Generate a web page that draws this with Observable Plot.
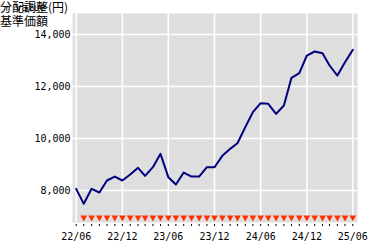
<!DOCTYPE html>
<html><head><meta charset="utf-8">
<script src="https://cdn.jsdelivr.net/npm/d3@7"></script>
<script src="https://cdn.jsdelivr.net/npm/@observablehq/plot@0.6"></script>
<style>
body{margin:0;background:#fff;}
#wrap{position:relative;width:380px;height:250px;}
.t{position:absolute;left:0;font-family:"Noto Sans CJK JP";font-size:12px;line-height:12px;color:#000;z-index:2;white-space:nowrap;}
</style></head>
<body><div id="wrap"><div class="t" style="top:1px">分配調整(円)</div><div class="t" style="top:15px">基準価額</div></div>
<script>
const months = ["2022-06","2022-07","2022-08","2022-09","2022-10","2022-11","2022-12",
"2023-01","2023-02","2023-03","2023-04","2023-05","2023-06","2023-07","2023-08","2023-09","2023-10","2023-11","2023-12",
"2024-01","2024-02","2024-03","2024-04","2024-05","2024-06","2024-07","2024-08","2024-09","2024-10","2024-11","2024-12",
"2025-01","2025-02","2025-03","2025-04","2025-05","2025-06"];
const navValues = [8065,7488,8065,7923,8385,8538,8385,8615,8872,8565,8897,9410,8513,8231,8692,8538,8538,8897,8897,
9333,9603,9820,10436,11013,11359,11333,10949,11269,12333,12513,13192,13346,13282,12808,12423,12936,13410];
const distributionMonths = months.slice(1);
const yTicks = [8000,10000,12000,14000];
const xLabelMonths = ["2022-06","2022-12","2023-06","2023-12","2024-06","2024-12","2025-06"];

const parse = d3.utcParse("%Y-%m");
const data = months.map((m,i)=>({date:parse(m), value:navValues[i]}));
const distDates = distributionMonths.map(parse);
const monthDates = months.map(parse);
const labelDates = xLabelMonths.map(parse);

const chart = Plot.plot({
  width:380, height:250,
  marginLeft:72, marginRight:23, marginTop:13, marginBottom:28,
  insetLeft:3.7, insetRight:4.7,
  x:{type:"utc", domain:[parse("2022-06"), parse("2025-06")]},
  y:{domain:[6770,14808]},
  style:{fontFamily:"DejaVu Sans Mono", fontSize:"10px", color:"#000", background:"#fff"},
  marks:[
    Plot.frame({fill:"#dedede", stroke:null}),
    Plot.gridY(yTicks,{stroke:"#fff", strokeOpacity:1, strokeWidth:1.5}),
    Plot.gridX(labelDates,{stroke:"#fff", strokeOpacity:1, strokeWidth:1.5}),
    Plot.axisY(yTicks,{tickSize:0, tickPadding:2, tickFormat:d3.format(",")}),
    Plot.axisX(monthDates,{tickSize:4, tickFormat:()=>"", stroke:"#000", strokeDasharray:"0,2,2"}),
    Plot.axisX(labelDates,{tickSize:0, tickPadding:10, tickFormat:d3.utcFormat("%y/%m")}),
    Plot.line(data,{x:"date", y:"value", stroke:"#000080", strokeWidth:2}),
    Plot.dot(distDates,{x:d=>d, frameAnchor:"bottom", dy:-5, symbol:"triangle", r:2.5, rotate:180, fill:"#ff3300", stroke:null})
  ]
});
document.getElementById("wrap").appendChild(chart);
</script></body></html>
